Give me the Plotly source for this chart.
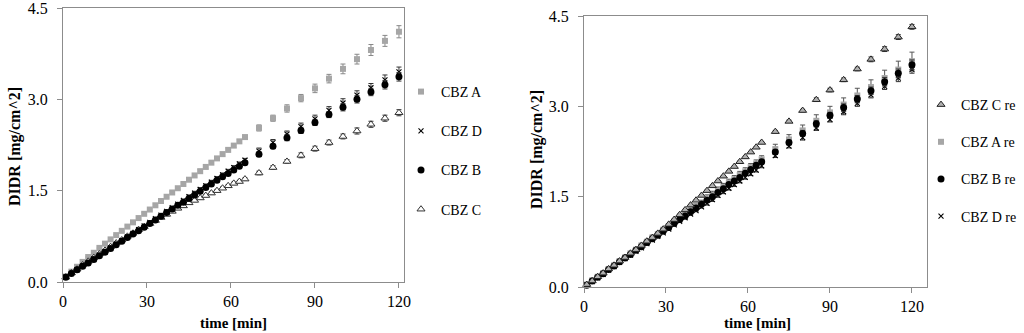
import plotly.graph_objects as go

# ---------------- data ----------------
t_dense = list(range(1, 66, 2))
t_sparse = list(range(70, 121, 5))
time_min = t_dense + t_sparse

# left panel
cbz_a = [0.09, 0.17, 0.25, 0.33, 0.41, 0.48, 0.56, 0.63, 0.70, 0.77, 0.84, 0.91, 0.98, 1.05, 1.12, 1.19, 1.26,
         1.33, 1.40, 1.47, 1.54, 1.61, 1.68, 1.75, 1.82, 1.89, 1.96, 2.03, 2.10, 2.17, 2.24, 2.31, 2.38,
         2.53, 2.69, 2.85, 3.02, 3.18, 3.34, 3.50, 3.66, 3.81, 3.96, 4.11]
cbz_a_err = [0.01] * 11 + [0.02] * 11 + [0.03] * 11 + [0.05, 0.05, 0.06, 0.06, 0.07, 0.07, 0.08, 0.08, 0.09, 0.09, 0.10]

cbz_d = [0.08, 0.14, 0.20, 0.26, 0.32, 0.38, 0.44, 0.50, 0.56, 0.62, 0.68, 0.74, 0.80, 0.86, 0.92, 0.98, 1.04,
         1.10, 1.16, 1.22, 1.28, 1.34, 1.40, 1.46, 1.52, 1.58, 1.64, 1.70, 1.76, 1.82, 1.88, 1.94, 2.00,
         2.15, 2.29, 2.43, 2.55, 2.68, 2.82, 2.94, 3.07, 3.19, 3.32, 3.45]
cbz_d_err = [0.01] * 11 + [0.02] * 11 + [0.03] * 11 + [0.05, 0.05, 0.05, 0.06, 0.06, 0.06, 0.07, 0.07, 0.07, 0.08, 0.08]

cbz_b = [0.08, 0.14, 0.20, 0.26, 0.31, 0.37, 0.43, 0.49, 0.55, 0.61, 0.67, 0.73, 0.79, 0.84, 0.90, 0.96, 1.02,
         1.08, 1.14, 1.20, 1.26, 1.31, 1.37, 1.43, 1.49, 1.55, 1.61, 1.67, 1.73, 1.78, 1.84, 1.90, 1.96,
         2.10, 2.23, 2.37, 2.49, 2.62, 2.75, 2.87, 3.00, 3.12, 3.24, 3.37]
cbz_b_err = [0.01] * 11 + [0.02] * 11 + [0.03] * 11 + [0.04, 0.04, 0.05, 0.05, 0.05, 0.05, 0.06, 0.06, 0.06, 0.07, 0.07]

cbz_c = [0.08, 0.15, 0.21, 0.28, 0.34, 0.40, 0.46, 0.52, 0.58, 0.64, 0.69, 0.75, 0.80, 0.86, 0.91, 0.96, 1.01,
         1.06, 1.11, 1.16, 1.21, 1.25, 1.30, 1.34, 1.38, 1.42, 1.46, 1.50, 1.54, 1.58, 1.62, 1.65, 1.69,
         1.79, 1.88, 1.98, 2.08, 2.19, 2.29, 2.39, 2.48, 2.59, 2.69, 2.78]
cbz_c_err = [0.01] * 11 + [0.02] * 11 + [0.02] * 11 + [0.03, 0.03, 0.03, 0.04, 0.04, 0.04, 0.04, 0.05, 0.05, 0.05, 0.05]

# right panel
cbz_c_re = [0.04, 0.10, 0.17, 0.23, 0.30, 0.36, 0.43, 0.49, 0.56, 0.62, 0.69, 0.76, 0.82, 0.89, 0.96, 1.04, 1.12,
            1.20, 1.28, 1.36, 1.44, 1.52, 1.60, 1.68, 1.76, 1.84, 1.92, 2.00, 2.08, 2.16, 2.24, 2.32, 2.40,
            2.58, 2.75, 2.93, 3.11, 3.27, 3.44, 3.62, 3.78, 3.95, 4.15, 4.32]
cbz_c_re_err = [0.01] * 33 + [0.02, 0.02, 0.02, 0.03, 0.03, 0.03, 0.03, 0.04, 0.04, 0.04, 0.04]

cbz_a_re = [0.04, 0.11, 0.17, 0.23, 0.30, 0.36, 0.43, 0.49, 0.56, 0.62, 0.69, 0.75, 0.82, 0.88, 0.95, 1.01, 1.08,
            1.14, 1.21, 1.27, 1.34, 1.40, 1.47, 1.53, 1.60, 1.66, 1.73, 1.79, 1.86, 1.92, 1.99, 2.05, 2.12,
            2.29, 2.45, 2.60, 2.76, 2.90, 3.03, 3.18, 3.32, 3.47, 3.61, 3.75]
cbz_a_re_err = [0.02] * 11 + [0.04] * 11 + [0.06] * 11 + [0.08, 0.08, 0.09, 0.10, 0.10, 0.11, 0.12, 0.12, 0.13, 0.14, 0.15]

cbz_b_re = [0.03, 0.10, 0.16, 0.22, 0.29, 0.35, 0.42, 0.48, 0.54, 0.61, 0.67, 0.74, 0.80, 0.86, 0.93, 0.99, 1.06,
            1.12, 1.18, 1.25, 1.31, 1.38, 1.44, 1.50, 1.57, 1.63, 1.70, 1.76, 1.82, 1.89, 1.95, 2.02, 2.08,
            2.24, 2.40, 2.55, 2.71, 2.85, 2.98, 3.12, 3.26, 3.41, 3.55, 3.69]
cbz_b_re_err = [0.01] * 11 + [0.02] * 11 + [0.03] * 11 + [0.04, 0.04, 0.05, 0.05, 0.05, 0.06, 0.06, 0.06, 0.07, 0.07, 0.08]

cbz_d_re = [0.03, 0.09, 0.15, 0.21, 0.28, 0.34, 0.41, 0.47, 0.53, 0.59, 0.65, 0.72, 0.78, 0.84, 0.90, 0.96, 1.03,
            1.09, 1.15, 1.21, 1.27, 1.33, 1.39, 1.45, 1.52, 1.58, 1.64, 1.70, 1.76, 1.82, 1.88, 1.94, 2.01,
            2.18, 2.34, 2.48, 2.64, 2.78, 2.91, 3.05, 3.19, 3.33, 3.47, 3.61]
cbz_d_re_err = [0.01] * 11 + [0.02] * 11 + [0.03] * 11 + [0.03, 0.03, 0.04, 0.04, 0.04, 0.05, 0.05, 0.05, 0.05, 0.06, 0.06]

x_ticks = [0, 30, 60, 90, 120]
y_ticks = [0.0, 1.5, 3.0, 4.5]

# ---------------- figure ----------------
W, H = 1024, 333
FONT = "Liberation Serif"
GRAY = "#a6a6a6"
fig = go.Figure()


def add(name, y, err, xaxis, yaxis, legend, rank, marker, ecolor):
    fig.add_trace(go.Scatter(
        x=time_min, y=y, name=name, mode="markers", xaxis=xaxis, yaxis=yaxis,
        legend=legend, legendgroup=name, legendrank=rank, marker=marker,
        error_y=dict(type="data", array=err, visible=True, color=ecolor, thickness=1, width=2.5),
        cliponaxis=False,
    ))


sq = dict(symbol="square", size=6, color=GRAY)
xm = dict(symbol="x-thin", size=5, color="#000", line=dict(width=1.1, color="#000"))
ci = dict(symbol="circle", size=7, color="#000")
tri_open = dict(symbol="triangle-up", size=7, color="#ffffff", line=dict(width=1, color="#333"))
tri_gray = dict(symbol="triangle-up", size=7, color="#b0b0b0", line=dict(width=1, color="#222"))

# left
add("CBZ A", cbz_a, cbz_a_err, "x", "y", "legend", 1, sq, "#888")
add("CBZ C", cbz_c, cbz_c_err, "x", "y", "legend", 4, tri_open, "#333")
add("CBZ D", cbz_d, cbz_d_err, "x", "y", "legend", 2, xm, "#333")
add("CBZ B", cbz_b, cbz_b_err, "x", "y", "legend", 3, ci, "#333")
# right
add("CBZ A re", cbz_a_re, cbz_a_re_err, "x2", "y2", "legend2", 2, sq, "#555")
add("CBZ D re", cbz_d_re, cbz_d_re_err, "x2", "y2", "legend2", 4, xm, "#333")
add("CBZ B re", cbz_b_re, cbz_b_re_err, "x2", "y2", "legend2", 3, ci, "#333")
add("CBZ C re", cbz_c_re, cbz_c_re_err, "x2", "y2", "legend2", 1, tri_gray, "#333")

axis_common = dict(
    showgrid=False, zeroline=False, showline=True, linecolor="#8c8c8c", linewidth=1,
    mirror=True, ticks="outside", ticklen=5, tickcolor="#8c8c8c",
    tickfont=dict(family=FONT, size=16, color="#000"), automargin=False,
    ticklabeloverflow="allow",
)
y_extra = dict(ticklabelstandoff=6)

fig.update_layout(
    width=W, height=H, margin=dict(l=0, r=0, t=0, b=0, autoexpand=False),
    paper_bgcolor="white", plot_bgcolor="white", showlegend=True,
    font=dict(family=FONT, color="#000"),
    xaxis=dict(domain=[63 / W, 404 / W], range=[0, 121.8], tickvals=x_ticks, anchor="y", **axis_common),
    yaxis=dict(domain=[1 - 282 / H, 1 - 8 / H], range=[0, 4.5], tickvals=y_ticks, tickformat=".1f",
               anchor="x", **axis_common, **y_extra),
    xaxis2=dict(domain=[584 / W, 927 / W], range=[0, 125.5], tickvals=x_ticks, anchor="y2", **axis_common),
    yaxis2=dict(domain=[1 - 287 / H, 1 - 16 / H], range=[0, 4.5], tickvals=y_ticks, tickformat=".1f",
                anchor="x2", **axis_common, **y_extra),
    legend=dict(x=401 / W, y=1 - 76 / H, xanchor="left", yanchor="top", bgcolor="rgba(0,0,0,0)",
                font=dict(family=FONT, size=14, color="#000"), tracegroupgap=18, itemsizing="trace"),
    legend2=dict(x=921 / W, y=1 - 89 / H, xanchor="left", yanchor="top", bgcolor="rgba(0,0,0,0)",
                 font=dict(family=FONT, size=14, color="#000"), tracegroupgap=16, itemsizing="trace"),
    annotations=[
        dict(text="<b>time [min]</b>", x=233 / W, y=1 - 323 / H, xref="paper", yref="paper",
             xanchor="center", yanchor="middle",
             showarrow=False, font=dict(family=FONT, size=15, color="#000")),
        dict(text="<b>time [min]</b>", x=757 / W, y=1 - 323 / H, xref="paper", yref="paper",
             xanchor="center", yanchor="middle",
             showarrow=False, font=dict(family=FONT, size=15, color="#000")),
        dict(text="<b>DIDR [mg/cm^2]</b>", x=15 / W, y=1 - 147 / H, xref="paper", yref="paper",
             xanchor="center", yanchor="middle",
             showarrow=False, textangle=-90, font=dict(family=FONT, size=16, color="#000")),
        dict(text="<b>DIDR [mg/cm^2]</b>", x=537 / W, y=1 - 150 / H, xref="paper", yref="paper",
             xanchor="center", yanchor="middle",
             showarrow=False, textangle=-90, font=dict(family=FONT, size=16, color="#000")),
    ],
)

fig.write_html("out.html", config={"displayModeBar": False},
               post_script="document.body.style.margin='0';")
